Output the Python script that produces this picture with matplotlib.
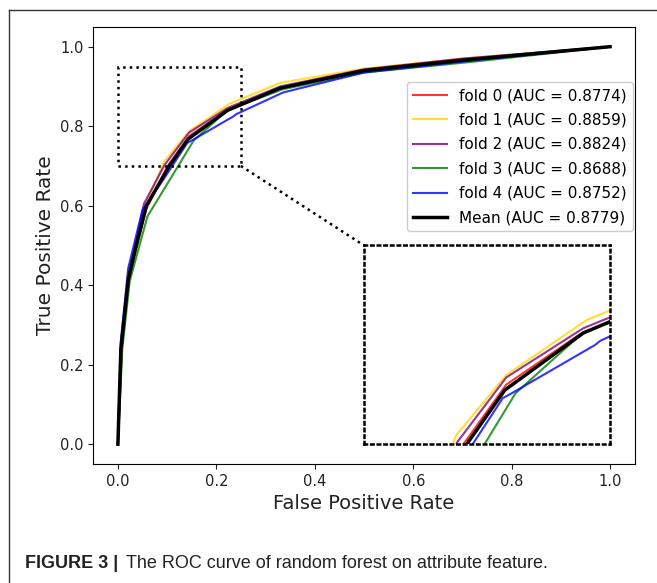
import matplotlib
matplotlib.use("Agg")
import matplotlib.pyplot as plt
from matplotlib.patches import Rectangle
from matplotlib.lines import Line2D

# ROC vertices (fpr, tpr) per fold
fold0_fpr = [0, 0.008, 0.023, 0.057, 0.101, 0.1446, 0.219, 0.33, 0.5, 0.7, 1.0]
fold0_tpr = [0, 0.24, 0.42, 0.59, 0.70, 0.775, 0.838, 0.895, 0.94, 0.966, 1.0]

fold1_fpr = [0, 0.007, 0.02, 0.055, 0.0935, 0.1446, 0.226, 0.33, 0.5, 0.7, 1.0]
fold1_tpr = [0, 0.25, 0.43, 0.595, 0.711, 0.787, 0.856, 0.909, 0.945, 0.97, 1.0]

fold2_fpr = [0, 0.008, 0.022, 0.053, 0.095, 0.1446, 0.223, 0.33, 0.5, 0.7, 1.0]
fold2_tpr = [0, 0.24, 0.42, 0.605, 0.703, 0.784, 0.846, 0.9, 0.943, 0.97, 1.0]

fold3_fpr = [0, 0.009, 0.024, 0.06, 0.151, 0.154, 0.222, 0.335, 0.5, 0.72, 1.0]
fold3_tpr = [0, 0.24, 0.41, 0.573, 0.758, 0.764, 0.84, 0.893, 0.935, 0.962, 1.0]

fold4_fpr = [0, 0.006, 0.021, 0.05, 0.092, 0.141, 0.150, 0.235, 0.240, 0.336, 0.5, 0.72, 1.0]
fold4_tpr = [0, 0.26, 0.443, 0.59, 0.665, 0.758, 0.764, 0.825, 0.830, 0.885, 0.935, 0.965, 1.0]

mean_fpr = [0, 0.006, 0.021, 0.035, 0.058, 0.1044, 0.143, 0.223, 0.33, 0.5, 0.7, 1.0]
mean_tpr = [0, 0.24, 0.413, 0.489, 0.6, 0.7, 0.768, 0.840, 0.896, 0.94, 0.966, 1.0]

fold_fprs = [fold0_fpr, fold1_fpr, fold2_fpr, fold3_fpr, fold4_fpr]
fold_tprs = [fold0_tpr, fold1_tpr, fold2_tpr, fold3_tpr, fold4_tpr]
fold_aucs = [0.8774, 0.8859, 0.8824, 0.8688, 0.8752]
mean_auc = 0.8779
colors = ["red", "gold", "purple", "green", "blue"]

fig = plt.figure(figsize=(6.57, 5.83), dpi=100)
ax = fig.add_axes([0.142, 0.204, 0.824, 0.750])


def draw_curves(a):
    for i in range(5):
        a.plot(fold_fprs[i], fold_tprs[i], color=colors[i], lw=1.5, alpha=0.8,
               label="fold %d (AUC = %.4f)" % (i, fold_aucs[i]))
    a.plot(mean_fpr, mean_tpr, color="black", lw=2.5,
           label="Mean (AUC = %.4f)" % mean_auc)


draw_curves(ax)

ax.set_xlim(-0.05, 1.05)
ax.set_ylim(-0.05, 1.05)
ax.set_xticks([0, 0.2, 0.4, 0.6, 0.8, 1.0])
ax.set_yticks([0, 0.2, 0.4, 0.6, 0.8, 1.0])
ax.tick_params(labelsize=10.5, colors="#222222")
ax.set_xlabel("False Positive Rate", fontsize=14, color="#222222")
ax.set_ylabel("True Positive Rate", fontsize=14.5, color="#222222")

ax.legend(loc="upper right", bbox_to_anchor=(0.997, 0.874), borderaxespad=0,
          fontsize=11, framealpha=1, labelspacing=0.62, handlelength=2.2)

# zoom box, connector and inset
ax.add_patch(Rectangle((0, 0.7), 0.25, 0.25, fill=False, ls=":", lw=1.8, color="black", zorder=5))
ax.plot([0.25, 0.5], [0.7, 0.5], ls=":", lw=1.8, color="black", zorder=5)

axins = ax.inset_axes([0.5, 0.0, 0.5, 0.5], transform=ax.transData)
draw_curves(axins)
axins.set_xlim(0, 0.25)
axins.set_ylim(0.7, 0.95)
axins.set_xticks([])
axins.set_yticks([])
for sp in axins.spines.values():
    sp.set_linestyle(":")
    sp.set_linewidth(1.8)

# figure frame and caption
fig.add_artist(Line2D([9 / 657, 9 / 657], [0, 1 - 10 / 583], color="#333333", lw=1))
fig.add_artist(Line2D([9 / 657, 1], [1 - 10 / 583, 1 - 10 / 583], color="#333333", lw=1))
fig.text(25 / 657, 1 - 563 / 583, "FIGURE 3 |", fontsize=13, fontweight="bold",
         family="Liberation Sans", va="center", color="#222222")
fig.text(126 / 657, 1 - 563 / 583, "The ROC curve of random forest on attribute feature.",
         fontsize=13, family="Liberation Sans", va="center", color="#222222")

fig.savefig("out.png", dpi=100)
